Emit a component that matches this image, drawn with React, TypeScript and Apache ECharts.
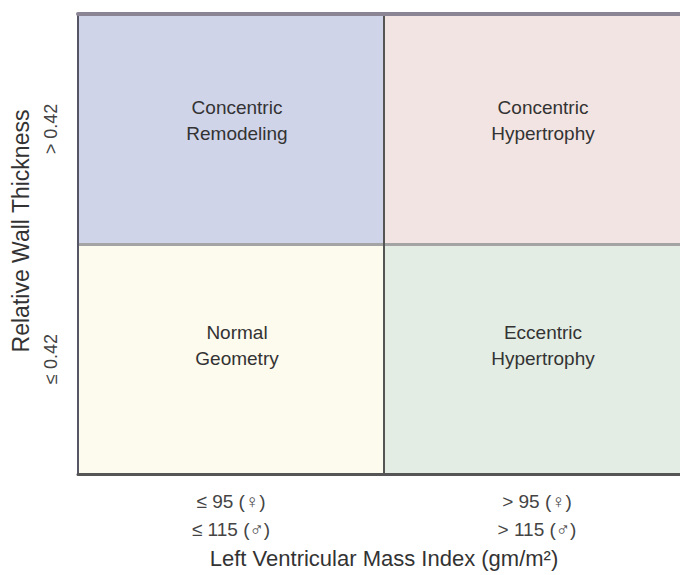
import React, { useEffect, useRef } from "react";
import * as echarts from "echarts";

const xCategories = ["≤ 95 (♀)\n≤ 115 (♂)", "> 95 (♀)\n> 115 (♂)"];
const yCategories = ["≤ 0.42", "> 0.42"];
const cellX = [0, 1, 0, 1];
const cellY = [1, 1, 0, 0];
const cellNames = [
  "Concentric\nRemodeling",
  "Concentric\nHypertrophy",
  "Normal\nGeometry",
  "Eccentric\nHypertrophy",
];
const cellColors = ["#d0d4e9", "#f2e4e2", "#fdfaee", "#e3ede3"];
const xAxisName = "Left Ventricular Mass Index (gm/m²)";
const yAxisName = "Relative Wall Thickness";

export default function App() {
  const ref = useRef<HTMLDivElement>(null);
  useEffect(() => {
    document.body.style.margin = "0";
    const chart = echarts.init(ref.current!, null, { renderer: "svg" });
    const font = "Liberation Sans, Arial, sans-serif";
    chart.setOption({
      animation: false,
      backgroundColor: "#ffffff",
      textStyle: { fontFamily: font },
      grid: { left: 78, right: 0, top: 14, bottom: 101 },
      visualMap: {
        type: "piecewise",
        show: false,
        dimension: 2,
        pieces: cellColors.map((c, i) => ({ value: i, color: c })),
      },
      xAxis: [
        {
          type: "category",
          data: xCategories,
          position: "bottom",
          z: 10,
          axisLine: { show: true, lineStyle: { color: "#555555", width: 3 } },
          axisTick: { show: false },
          axisLabel: {
            color: "#444444",
            fontSize: 19,
            lineHeight: 28,
            margin: 13,
            fontFamily: font,
          },
          splitLine: { show: true, lineStyle: { color: "#555555", width: 2 } },
          name: xAxisName,
          nameLocation: "middle",
          nameGap: 69,
          nameTextStyle: { color: "#333333", fontSize: 22, fontFamily: font },
        },
        {
          type: "category",
          data: xCategories,
          position: "top",
          z: 10,
          axisLine: { show: true, lineStyle: { color: "#8a8494", width: 4 } },
          axisTick: { show: false },
          axisLabel: { show: false },
          splitLine: { show: false },
        },
      ],
      yAxis: {
        type: "category",
        data: yCategories,
        z: 10,
        axisLine: { show: true, lineStyle: { color: "#555566", width: 2 } },
        axisTick: { show: false },
        axisLabel: {
          rotate: 90,
          color: "#444444",
          fontSize: 18,
          margin: 18,
          fontFamily: font,
        },
        splitLine: { show: true, lineStyle: { color: "#a4a4a4", width: 3 } },
        name: yAxisName,
        nameLocation: "middle",
        nameGap: 46,
        nameTextStyle: {
          color: "#333333",
          fontSize: 23,
          fontFamily: font,
          padding: [0, 0, 0, 26],
        },
      },
      series: [
        {
          type: "heatmap",
          z: 2,
          data: cellNames.map((n, i) => ({
            name: n,
            value: [cellX[i], cellY[i], i],
            label: { offset: [6, cellY[i] === 1 ? -9 : -14] },
          })),
          label: {
            show: true,
            formatter: (p: any) => p.name,
            color: "#333333",
            fontSize: 19,
            lineHeight: 26,
            fontFamily: font,
          },
          emphasis: { disabled: true },
        },
      ],
    });
    return () => chart.dispose();
  }, []);
  return (
    <div style={{ width: 680, height: 575, overflow: "hidden", position: "relative" }}>
      <div ref={ref} style={{ width: 690, height: 575 }} />
    </div>
  );
}
